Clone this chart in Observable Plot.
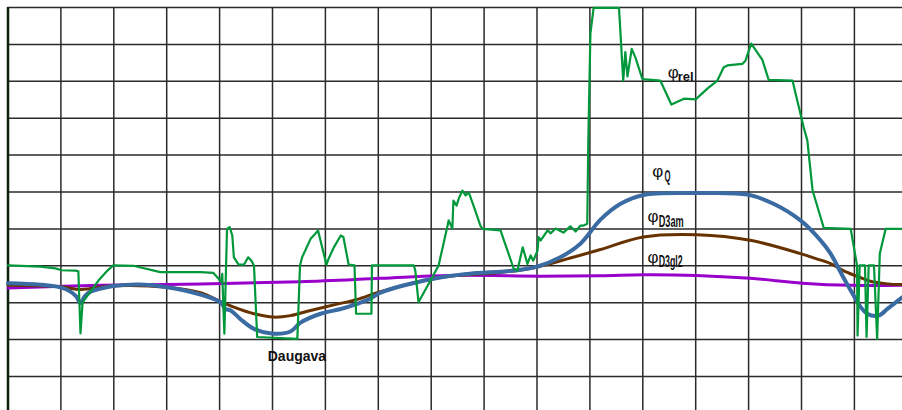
<!DOCTYPE html>
<html>
<head>
<meta charset="utf-8">
<script src="https://cdn.jsdelivr.net/npm/d3@7"></script>
<script src="https://cdn.jsdelivr.net/npm/@observablehq/plot@0.6"></script>
<style>
  html, body { margin: 0; padding: 0; background: #fff; }
  #chart svg { display: block; }
</style>
</head>
<body>
<div id="chart"></div>
<script>
// Grid: x in grid cells along the river profile, y in grid cells (no tick labels in the original)
const xGrid = d3.range(0, 17);
const yGrid = d3.range(0, 11);

// φD3gl2 (purple)
const phiD3gl2 = [[0,2.40],[1.75,2.47],[3.64,2.51],[5.53,2.57],[7.04,2.66],[8.36,2.74],[10.07,2.72],
  [11.20,2.73],[12.01,2.76],[13.01,2.74],[14.03,2.66],[15.02,2.53],[15.93,2.47],[16.91,2.47]];

// φD3am (brown)
const phiD3am = [[0,2.47],[1.01,2.43],[1.37,2.36],[1.99,2.46],[3.01,2.42],[3.64,2.27],[4.02,2.03],
  [4.27,1.88],[4.65,1.70],[5.02,1.61],[5.34,1.65],[5.72,1.79],[6.16,1.94],[6.60,2.09],[7.04,2.30],
  [8.04,2.65],[8.69,2.76],[9.31,2.82],[10.01,2.97],[10.63,3.21],[11.20,3.44],[12.01,3.78],[13.03,3.84],
  [14.03,3.69],[14.98,3.33],[15.26,3.20],[15.55,3.06],[15.79,2.87],[16.06,2.71],[16.30,2.58],
  [16.63,2.51],[16.91,2.49]];

// φQ (blue)
const phiQ = [[0,2.53],[0.61,2.49],[1.01,2.41],[1.18,2.30],[1.29,2.17],[1.37,1.99],[1.45,2.17],
  [1.56,2.30],[1.75,2.38],[1.99,2.45],[2.50,2.49],[3.01,2.42],[3.64,2.22],[4.02,2.01],[4.11,1.83],
  [4.21,1.79],[4.39,1.56],[4.65,1.29],[5.02,1.16],[5.34,1.22],[5.53,1.46],[5.91,1.70],[6.29,1.83],
  [6.60,1.97],[6.85,2.11],[7.04,2.27],[8.04,2.65],[8.69,2.78],[9.56,2.87],[10.01,2.98],[10.44,3.23],
  [10.82,3.60],[11.20,4.25],[11.58,4.68],[12.01,4.92],[13.03,4.97],[13.98,4.93],[14.47,4.68],
  [14.98,4.23],[15.36,3.69],[15.55,3.33],[15.79,2.69],[16.02,2.11],[16.12,1.88],[16.24,1.70],
  [16.46,1.65],[16.63,1.84],[16.91,2.15]];

// φrel (green)
const phiRel = [[0,3.01],[0.61,2.98],[0.90,2.93],[1.01,2.88],[1.28,2.87],[1.33,2.85],[1.37,1.17],
  [1.41,2.01],[1.71,2.60],[1.88,2.87],[1.99,3.01],[2.37,3.00],[2.88,2.83],[3.64,2.83],[3.88,2.81],
  [3.98,2.65],[4.03,2.56],[4.05,2.78],[4.09,1.16],[4.14,4.00],[4.19,4.05],[4.24,3.82],[4.27,3.23],
  [4.36,3.03],[4.46,3.03],[4.54,3.23],[4.60,3.14],[4.65,3.01],[4.71,1.07],[5.47,1.02],[5.52,3.01],
  [5.56,3.23],[5.72,3.73],[5.81,3.87],[5.86,3.96],[6.02,3.03],[6.06,3.19],[6.16,3.50],[6.29,3.82],
  [6.34,3.78],[6.44,3.03],[6.55,3.01],[6.58,1.70],[6.87,1.70],[6.88,3.01],[7.67,3.01],[7.70,2.87],
  [7.76,2.01],[8.02,2.69],[8.14,3.01],[8.31,4.09],[8.33,4.23],[8.40,4.01],[8.42,4.77],[8.48,4.63],
  [8.52,4.82],[8.59,5.04],[8.65,4.91],[8.71,4.99],[8.80,4.63],[8.93,4.09],[8.97,4.00],[9.31,3.96],
  [9.56,2.92],[9.63,2.87],[9.73,3.50],[9.82,3.05],[9.88,3.28],[9.93,3.14],[10.01,3.41],[10.03,3.78],
  [10.07,3.69],[10.20,3.96],[10.26,3.88],[10.35,4.01],[10.50,3.90],[10.63,4.07],[10.73,3.93],
  [10.82,4.09],[10.88,4.09],[10.95,4.14],[10.97,6.40],[11.01,9.30],[11.07,9.99],[11.55,9.99],
  [11.63,8.02],[11.67,8.79],[11.71,8.13],[11.79,8.88],[11.86,8.65],[11.99,8.07],[12.05,8.05],
  [12.33,8.02],[12.54,7.37],[12.78,7.53],[13.00,7.51],[13.22,7.80],[13.41,8.02],[13.53,8.38],
  [13.60,8.43],[13.88,8.47],[13.94,8.56],[14.05,9.02],[14.26,8.58],[14.38,8.04],[14.83,8.02],
  [14.92,7.48],[15.04,6.76],[15.11,6.40],[15.21,5.04],[15.42,4.03],[15.93,4.00],[16.05,3.01],
  [16.06,1.11],[16.10,3.01],[16.20,3.01],[16.23,1.07],[16.27,3.01],[16.37,3.01],[16.43,1.02],
  [16.48,3.33],[16.59,4.00],[16.91,4.00]];

// Series labels: φ with subscript
const labelSub = ["rel", "Q", "D3am", "D3gl2"];
const labelPhiX = [12.47, 12.18, 12.09, 12.09];
const labelPhiY = [8.09, 5.41, 4.19, 3.08];
const labelSubX = [12.66, 12.41, 12.30, 12.30];
const labelSubY = [8.02, 5.28, 4.04, 2.98];
const condensedWidth = {"Q": 6, "D3am": 25, "D3gl2": 24};

const riverLabel = ["Daugava"];
const riverX = [4.91];
const riverY = [0.41];

const labels = labelSub.map((s, i) => ({sub: s, px: labelPhiX[i], py: labelPhiY[i], sx: labelSubX[i], sy: labelSubY[i]}));

const font = "Liberation Sans, Arial, Helvetica, sans-serif";

const chart = Plot.plot({
  width: 902,
  height: 410,
  marginLeft: 7.5,
  marginRight: 0,
  marginTop: 7,
  marginBottom: 0,
  x: {domain: [0, 894.5 / 52.9], axis: null},
  y: {domain: [-34 / 36.9, 10], axis: null},
  style: {background: "#fff", fontFamily: font},
  marks: [
    Plot.ruleX(xGrid.slice(1), {stroke: "#2a2a2a", strokeWidth: 1.5}),
    Plot.ruleY(yGrid, {stroke: "#2a2a2a", strokeWidth: 1.5}),
    Plot.ruleX([0], {stroke: "#0d200d", strokeWidth: 2.5}),
    Plot.line(phiD3gl2, {x: d => d[0], y: d => d[1], stroke: "#9900cc", strokeWidth: 3, curve: "catmull-rom"}),
    Plot.line(phiD3am, {x: d => d[0], y: d => d[1], stroke: "#663300", strokeWidth: 3, curve: "catmull-rom"}),
    Plot.line(phiQ, {x: d => d[0], y: d => d[1], stroke: "#3a6ba3", strokeWidth: 4, curve: "catmull-rom"}),
    Plot.line(phiRel, {x: d => d[0], y: d => d[1], stroke: "#00983a", strokeWidth: 2.2, curve: "linear"}),
    Plot.text(labels, {x: "px", y: "py", text: () => "φ", textAnchor: "start", lineAnchor: "bottom",
      fontSize: 17, fill: "#111", fontFamily: font}),
    Plot.text(labels, {x: "sx", y: "sy", text: "sub", textAnchor: "start", lineAnchor: "bottom",
      fontSize: 13, fontWeight: "bold", fill: "#111", fontFamily: font}),
    Plot.text(riverLabel, {x: riverX, y: riverY, text: d => d, textAnchor: "start", lineAnchor: "bottom",
      fontSize: 14, fontWeight: "bold", fill: "#111", fontFamily: font})
  ]
});

// condense the narrow-font subscripts
d3.select(chart).selectAll("text").each(function() {
  const t = this.textContent;
  if (condensedWidth[t] !== undefined) {
    this.setAttribute("textLength", condensedWidth[t]);
    this.setAttribute("lengthAdjust", "spacingAndGlyphs");
    this.setAttribute("font-size", "16");
  }
});

document.getElementById("chart").appendChild(chart);
</script>
</body>
</html>
